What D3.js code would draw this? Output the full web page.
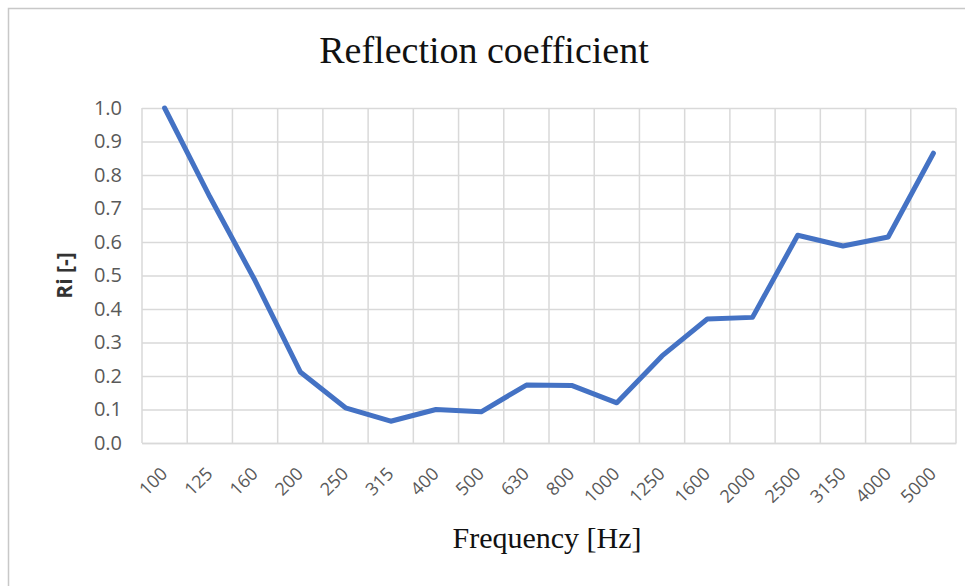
<!DOCTYPE html>
<html>
<head>
<meta charset="utf-8">
<script src="https://cdn.jsdelivr.net/npm/d3@7"></script>
<style>
  html, body { margin: 0; padding: 0; background: #fff; }
  svg { display: block; }
</style>
</head>
<body>
<svg id="chart" width="965" height="586"></svg>
<script>
// Third-octave band centre frequencies (Hz)
const frequencies = ["100","125","160","200","250","315","400","500","630","800",
                     "1000","1250","1600","2000","2500","3150","4000","5000"];
// Reflection coefficient Ri per band
const reflection = [1.0, 0.735, 0.485, 0.212, 0.105, 0.065, 0.10, 0.093, 0.173, 0.172,
                    0.12, 0.26, 0.37, 0.375, 0.62, 0.588, 0.615, 0.865];
const yTicks = [0, 0.1, 0.2, 0.3, 0.4, 0.5, 0.6, 0.7, 0.8, 0.9, 1.0];

const svg = d3.select("#chart");
const W = 965, H = 586;
const plot = { left: 142, right: 956, top: 108, bottom: 443 };
const sans = "'Open Sans', 'DejaVu Sans', sans-serif";
const serif = "'Liberation Serif', 'Times New Roman', serif";

// chart frame
svg.append("rect")
  .attr("x", 8.5).attr("y", 8.5)
  .attr("width", W + 10).attr("height", H + 10)
  .attr("fill", "#fff").attr("stroke", "#c8c8c8").attr("stroke-width", 1.5);

const x = d3.scaleBand().domain(frequencies).range([plot.left, plot.right]).paddingInner(0).paddingOuter(0);
const y = d3.scaleLinear().domain([0, 1]).range([plot.bottom, plot.top]);

// horizontal gridlines + y tick labels
const yAxis = d3.axisLeft(y).tickValues(yTicks).tickFormat(d3.format(".1f"))
  .tickSize(-(plot.right - plot.left)).tickPadding(20);
const gy = svg.append("g").attr("transform", `translate(${plot.left},0)`).call(yAxis);
gy.select(".domain").remove();
gy.selectAll(".tick line").attr("stroke", "#d9d9d9").attr("stroke-width", 1.5);
gy.selectAll(".tick text")
  .attr("fill", "#595959")
  .style("font-family", sans)
  .style("font-size", "20px");

// vertical gridlines at category boundaries
const bounds = frequencies.map(f => x(f)).concat([plot.right]);
svg.append("g").selectAll("line").data(bounds).join("line")
  .attr("x1", d => d).attr("x2", d => d)
  .attr("y1", plot.top).attr("y2", plot.bottom)
  .attr("stroke", "#d9d9d9").attr("stroke-width", 1.5);

// x tick labels (rotated)
const xAxis = d3.axisBottom(x).tickSize(0).tickPadding(0);
const gx = svg.append("g").attr("transform", `translate(0,${plot.bottom})`).call(xAxis);
gx.select(".domain").attr("stroke", "#d9d9d9").attr("stroke-width", 1.5);
gx.selectAll(".tick text")
  .attr("fill", "#595959")
  .style("font-family", sans)
  .style("font-size", "18px")
  .attr("text-anchor", "end")
  .attr("dy", "0")
  .attr("transform", "translate(4,32) rotate(-45)");

// data line
const line = d3.line()
  .x((d, i) => x(frequencies[i]) + x.bandwidth() / 2)
  .y(d => y(d));
svg.append("path")
  .datum(reflection)
  .attr("d", line)
  .attr("fill", "none")
  .attr("stroke", "#4472C4")
  .attr("stroke-width", 5)
  .attr("stroke-linejoin", "round")
  .attr("stroke-linecap", "round");

// title
svg.append("text")
  .attr("x", 484).attr("y", 63)
  .attr("text-anchor", "middle")
  .style("font-family", serif)
  .style("font-size", "38px")
  .attr("fill", "#111")
  .text("Reflection coefficient");

// axis titles
svg.append("text")
  .attr("transform", `translate(72,${(plot.top + plot.bottom) / 2}) rotate(-90)`)
  .attr("text-anchor", "middle")
  .style("font-family", sans)
  .style("font-size", "21px")
  .style("font-weight", "bold")
  .attr("fill", "#333")
  .text("Ri [-]");

svg.append("text")
  .attr("x", 547).attr("y", 548)
  .attr("text-anchor", "middle")
  .style("font-family", serif)
  .style("font-size", "30px")
  .attr("fill", "#111")
  .text("Frequency [Hz]");
</script>
</body>
</html>
